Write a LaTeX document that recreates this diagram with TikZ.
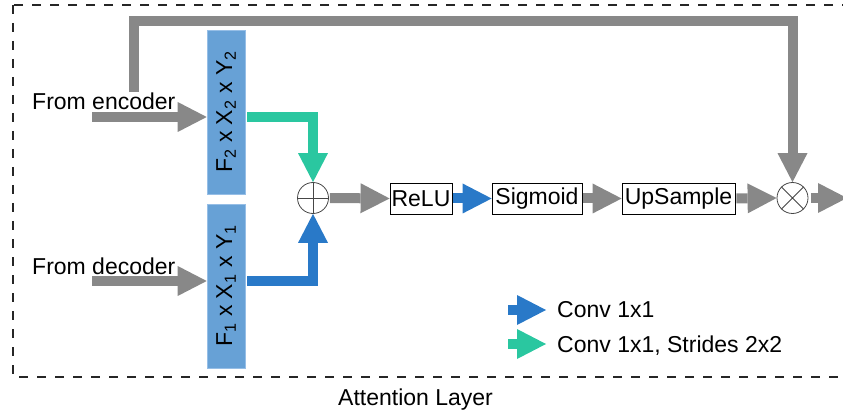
\documentclass[tikz,border=0pt]{standalone}
\usepackage{fontspec}
\setmainfont{Liberation Sans}
\usetikzlibrary{arrows.meta,calc}
\definecolor{agray}{RGB}{136,136,136}
\definecolor{ablue}{RGB}{41,121,200}
\definecolor{agreen}{RGB}{42,199,160}
\definecolor{blockfill}{RGB}{103,161,214}
\definecolor{blockline}{RGB}{150,190,230}
\definecolor{circline}{RGB}{70,70,70}
\tikzset{
  txt/.style={font=\fontsize{23}{27}\selectfont, inner sep=0pt},
  featblock/.style={fill=blockfill, draw=blockline, line width=0.6pt, minimum width=38pt, minimum height=164pt, inner sep=0pt},
  opbox/.style={draw=black, line width=0.8pt, minimum height=31pt, inner sep=0pt, font=\fontsize{23}{27}\selectfont},
  opcirc/.style={circle, draw=circline, line width=0.8pt, minimum size=31pt, inner sep=0pt},
  fat/.style={line width=10pt, line join=miter, -{Triangle[length=29pt,width=30pt,line width=0pt]}},
  grayarr/.style={fat, draw=agray, color=agray},
  bluearr/.style={fat, draw=ablue, color=ablue},
  greenarr/.style={fat, draw=agreen, color=agreen},
  frame/.style={draw=black!85, line width=1.1pt, dash pattern=on 9pt off 9pt}
}
\begin{document}
\begin{tikzpicture}[x=1pt,y=-1pt]
\useasboundingbox (0,0) rectangle (843,414);
\draw[frame] (13,5) rectangle (852,377);

% blocks
\node[featblock] (enc) at (226,112) {};
\node[txt, rotate=90] (enctxt) at (enc.center) {F\textsubscript{2} x X\textsubscript{2} x Y\textsubscript{2}};
\node[featblock] (dec) at (226,286) {};
\node[txt, rotate=90] (dectxt) at (dec.center) {F\textsubscript{1} x X\textsubscript{1} x Y\textsubscript{1}};

% operations
\node[opcirc] (plus) at (313,198) {};
\draw[circline, line width=0.8pt] (plus.north) -- (plus.south) (plus.west) -- (plus.east);
\node[opbox, minimum width=62pt] (relu) at (421,198.5) {ReLU};
\node[opbox, minimum width=90pt] (sig) at (537,198.5) {Sigmoid};
\node[opbox, minimum width=113pt] (up) at (678.5,198.5) {UpSample};
\node[opcirc] (times) at (792.5,198) {};
\draw[circline, line width=0.8pt] (times.north east) -- (times.south west) (times.north west) -- (times.south east);

% labels
\node[txt, anchor=base west] (fromenc) at (32,110) {From encoder};
\node[txt, anchor=base west] (fromdec) at (32,274) {From decoder};
\node[txt, anchor=base west] (attn) at (338,405) {Attention Layer};

% inputs
\coordinate (encin) at (92,117);
\coordinate (decin) at (92,281);
\draw[grayarr] (encin) -- (encin -| enc.west);
\draw[grayarr] (decin) -- (decin -| dec.west);

% skip connection
\coordinate (skip) at (134,92);
\coordinate (skiptop) at (134,21);
\draw[grayarr] (skip) -- (skiptop) -| (times.north);

% conv arrows
\draw[greenarr] ([xshift=2pt]encin -| enc.east) -| (plus.north);
\draw[bluearr] ([xshift=2pt]decin -| dec.east) -| (plus.south);

% main chain
\draw[grayarr, shorten <=1pt] (plus.east) -- (relu.west);
\draw[bluearr, shorten <=1pt] (relu.east) -- (sig.west);
\draw[grayarr, shorten <=1pt] (sig.east) -- (up.west);
\draw[grayarr, shorten <=1pt] (up.east) -- (times.west);
\coordinate (out) at (847,198);
\draw[grayarr, shorten <=3pt] (times.east) -- (out);

% legend
\coordinate (lg1a) at (508,310);
\coordinate (lg1b) at (546,310);
\coordinate (lg2a) at (508,344);
\coordinate (lg2b) at (546,344);
\draw[bluearr] (lg1a) -- (lg1b);
\draw[greenarr] (lg2a) -- (lg2b);
\node[txt, anchor=base west] (leg1) at (557,317) {Conv 1x1};
\node[txt, anchor=base west] (leg2) at (557,352) {Conv 1x1, Strides 2x2};
\end{tikzpicture}
\end{document}
